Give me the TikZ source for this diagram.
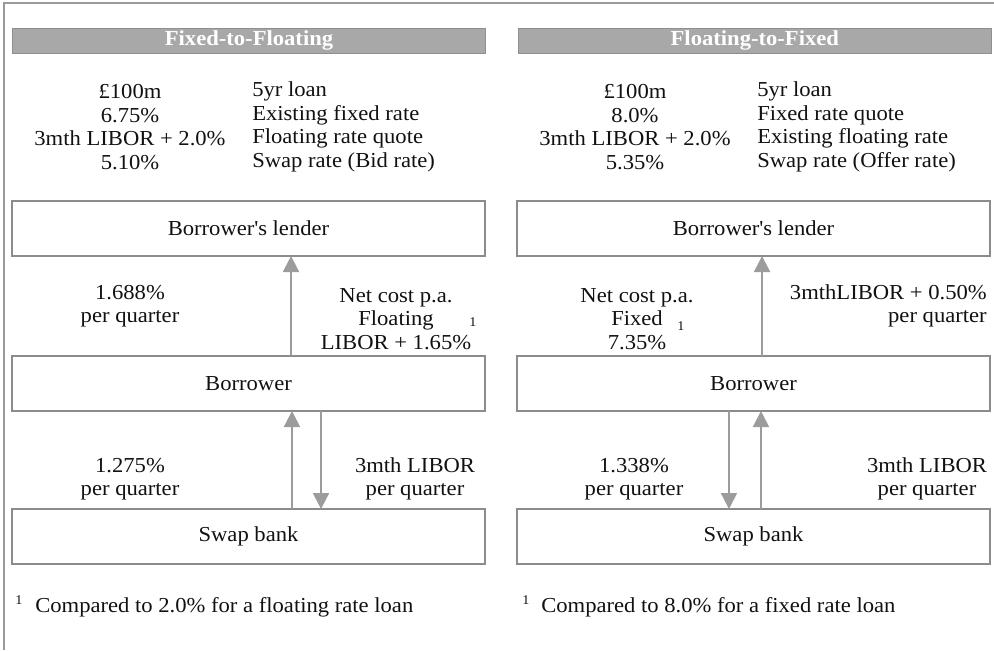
\documentclass[tikz,border=0pt]{standalone}
\usepackage{fontspec}
\setmainfont{Liberation Serif}[FakeStretch=1.06]
\usetikzlibrary{arrows.meta,positioning}
\definecolor{boxgray}{HTML}{8C8C8C}
\definecolor{bargray}{HTML}{A8A8A8}
\definecolor{flowgray}{HTML}{9C9C9C}
\definecolor{framegray}{HTML}{9A9A9A}
\definecolor{inkblack}{HTML}{111111}
\newcommand\mainsize{\fontsize{16pt}{17.6pt}\selectfont}
\newcommand\marksize{\fontsize{10pt}{11pt}\selectfont}
\tikzset
{
    partybox/.style = {rectangle, draw=boxgray, line width=1.5pt, minimum width=354.75pt, minimum height=41.25pt, inner sep=0pt, outer sep=0pt},
    headbar/.style  = {rectangle, fill=bargray, draw=bargray!85!black, line width=0.6pt, minimum width=354.75pt, minimum height=18.75pt, inner sep=0pt, text=white, font=\mainsize\bfseries},
    flow/.style     = {draw=flowgray, line width=1.5pt, -{Triangle[width=12pt,length=12pt]}},
    ratetext/.style = {align=center, inner sep=0pt},
    footmark/.style = {inner sep=0pt, font=\marksize}
}

\begin{document}
\begin{tikzpicture}
		[x=0.75pt, y=-0.75pt, every node/.style={font=\mainsize, text=inkblack}]
		\useasboundingbox (0,0) rectangle (994,650);
		\draw[framegray, line width=1.5pt] (4,650) -- (4,3) -- (994,3);
		% Fixed-to-Floating
		\node[headbar] (head1) at (249,40.5) {Fixed-to-Floating};
		\node[ratetext] (terms1) at (130,127) {\pounds100m\\6.75\%\\3mth LIBOR + 2.0\%\\5.10\%};
		\node[ratetext, align=left, anchor=west] (desc1) at (252,127) {5yr loan\\Existing fixed rate\\Floating rate quote\\Swap rate (Bid rate)};
		\node[partybox] (lend1) at (248.5,228.5) {Borrower\textquotesingle s lender};
		\node[partybox, below=75pt of lend1] (bor1) {Borrower};
		\node[partybox, below=73.5pt of bor1] (swap1) {Swap bank};
		\draw[flow] ([xshift=31.9pt]bor1.north) -- ([xshift=31.9pt]lend1.south);
		\draw[flow] ([xshift=32.6pt]swap1.north) -- ([xshift=32.6pt]bor1.south);
		\draw[flow] ([xshift=54.4pt]bor1.south) -- ([xshift=54.4pt]swap1.north);
		\node[ratetext] (pay1) at (130,306) {1.688\%\\per quarter};
		\node[ratetext] (net1) at (396,319) {Net cost p.a.\\Floating\\LIBOR + 1.65\%};
		\node[footmark] (mark1) at (473,322) {1};
		\node[ratetext] (fix1) at (130,479) {1.275\%\\per quarter};
		\node[ratetext] (flt1) at (415,479) {3mth LIBOR\\per quarter};
		\node[footmark] (fnum1) at (19,600) {1};
		\node[inner sep=0pt, anchor=west] (foot1) at (35,607) {Compared to 2.0\% for a floating rate loan};
		% Floating-to-Fixed
		\node[headbar, right=24pt of head1] (head2) {Floating-to-Fixed};
		\node[ratetext] (terms2) at (635,127) {\pounds100m\\8.0\%\\3mth LIBOR + 2.0\%\\5.35\%};
		\node[ratetext, align=left, anchor=west] (desc2) at (757,127) {5yr loan\\Fixed rate quote\\Existing floating rate\\Swap rate (Offer rate)};
		\node[partybox, right=24pt of lend1] (lend2) {Borrower\textquotesingle s lender};
		\node[partybox, below=75pt of lend2] (bor2) {Borrower};
		\node[partybox, below=73.5pt of bor2] (swap2) {Swap bank};
		\draw[flow] ([xshift=6.4pt]bor2.north) -- ([xshift=6.4pt]lend2.south);
		\draw[flow] ([xshift=-18.4pt]bor2.south) -- ([xshift=-18.4pt]swap2.north);
		\draw[flow] ([xshift=5.6pt]swap2.north) -- ([xshift=5.6pt]bor2.south);
		\node[ratetext] (net2) at (637,319) {Net cost p.a.\\Fixed\\7.35\%};
		\node[footmark] (mark2) at (681,326) {1};
		\node[ratetext, align=right, anchor=east] (pay2) at (987,306) {3mthLIBOR + 0.50\%\\per quarter};
		\node[ratetext] (fix2) at (634,479) {1.338\%\\per quarter};
		\node[ratetext] (flt2) at (927,479) {3mth LIBOR\\per quarter};
		\node[footmark] (fnum2) at (526,600) {1};
		\node[inner sep=0pt, anchor=west] (foot2) at (541,607) {Compared to 8.0\% for a fixed rate loan};
\end{tikzpicture}
\end{document}
